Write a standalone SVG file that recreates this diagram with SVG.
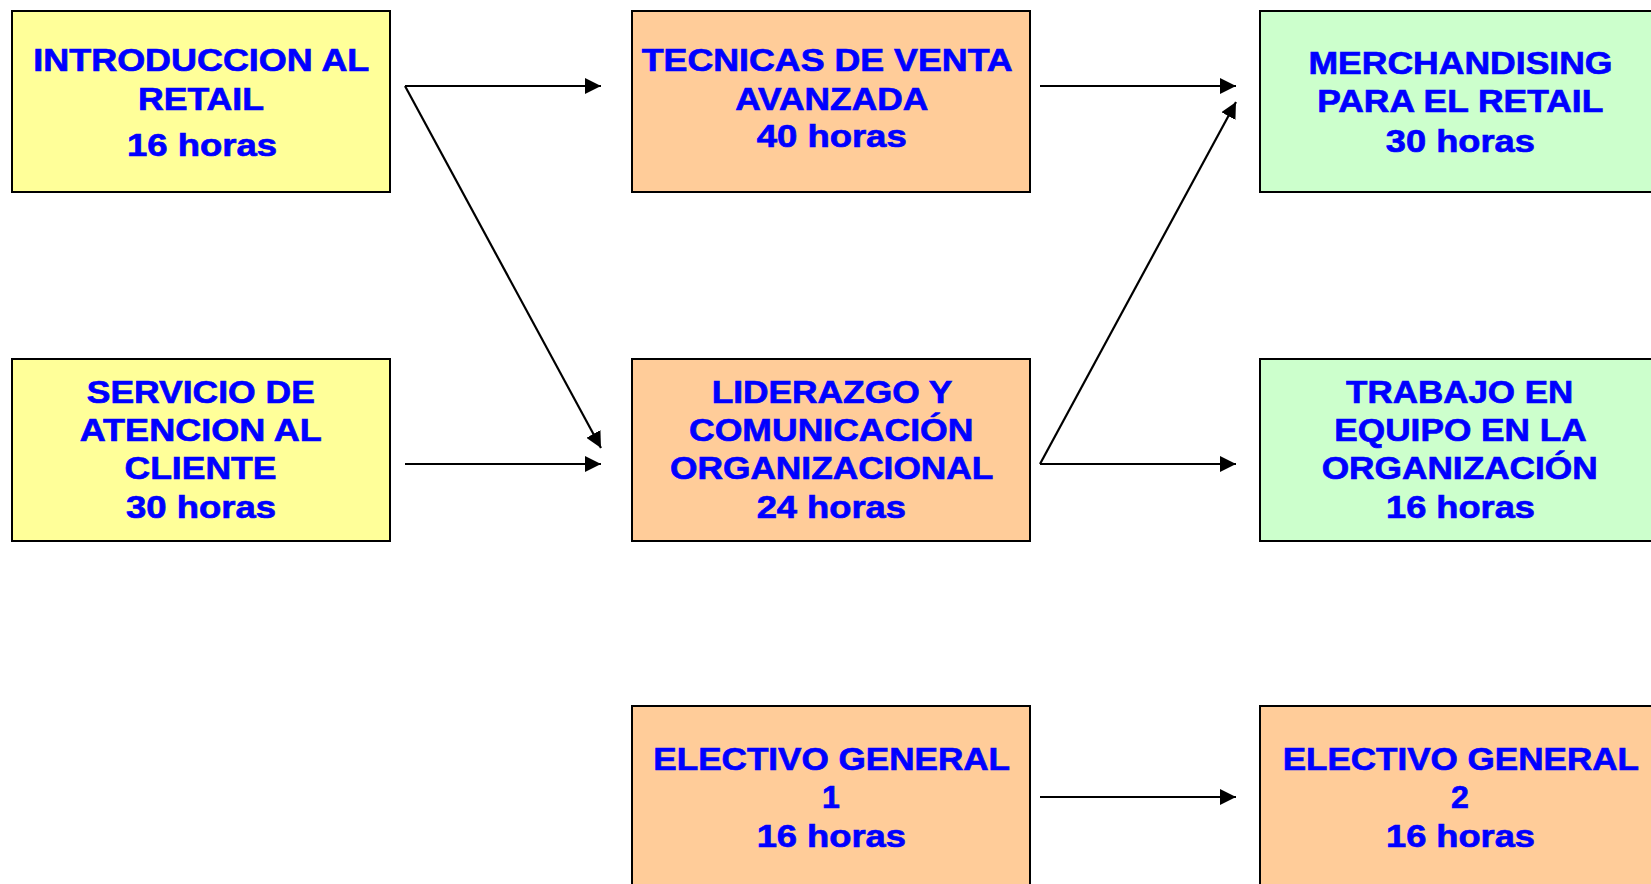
<svg xmlns="http://www.w3.org/2000/svg" width="1651" height="884" viewBox="0 0 1651 884">
<style>
  .box{stroke:#000;stroke-width:2}
  .y{fill:#FFFF99}
  .o{fill:#FFCC99}
  .g{fill:#CCFFCC}
  text{font-family:"Liberation Sans",Arial,sans-serif;font-weight:bold;font-size:32px;fill:#0000FF;stroke:#0000FF;stroke-width:0.7;text-anchor:middle}
  .c line{stroke:#000;stroke-width:2.2;marker-end:url(#ah)}
</style>
<defs>
  <marker id="ah" markerUnits="userSpaceOnUse" markerWidth="16" markerHeight="16" refX="15" refY="7.5" orient="auto" viewBox="0 0 15 15">
    <path d="M0,0 L15,7.5 L0,15 Z" fill="#000"/>
  </marker>
</defs>
<rect width="1651" height="884" fill="#fff"/>

<g id="introduccion">
  <rect class="box y" x="12" y="11" width="378" height="181"/>
  <text x="201.3" y="70.7" textLength="336" lengthAdjust="spacingAndGlyphs">INTRODUCCION AL</text>
  <text x="201" y="110" textLength="126" lengthAdjust="spacingAndGlyphs">RETAIL</text>
  <text x="202" y="156" textLength="150" lengthAdjust="spacingAndGlyphs">16 horas</text>
</g>

<g id="tecnicas">
  <rect class="box o" x="632" y="11" width="398" height="181"/>
  <text x="827.2" y="70.7" textLength="371" lengthAdjust="spacingAndGlyphs">TECNICAS DE VENTA</text>
  <text x="831.7" y="110" textLength="193" lengthAdjust="spacingAndGlyphs">AVANZADA</text>
  <text x="831.7" y="147.3" textLength="150" lengthAdjust="spacingAndGlyphs">40 horas</text>
</g>

<g id="merchandising">
  <rect class="box g" x="1260" y="11" width="400" height="181"/>
  <text x="1460.5" y="74" textLength="304" lengthAdjust="spacingAndGlyphs">MERCHANDISING</text>
  <text x="1460.3" y="112.3" textLength="286" lengthAdjust="spacingAndGlyphs">PARA EL RETAIL</text>
  <text x="1460.3" y="151.7" textLength="149" lengthAdjust="spacingAndGlyphs">30 horas</text>
</g>

<g id="servicio">
  <rect class="box y" x="12" y="359" width="378" height="182"/>
  <text x="200.8" y="403.3" textLength="228" lengthAdjust="spacingAndGlyphs">SERVICIO DE</text>
  <text x="200.8" y="441" textLength="242" lengthAdjust="spacingAndGlyphs">ATENCION AL</text>
  <text x="200.5" y="479.3" textLength="152" lengthAdjust="spacingAndGlyphs">CLIENTE</text>
  <text x="201" y="517.7" textLength="150" lengthAdjust="spacingAndGlyphs">30 horas</text>
</g>

<g id="liderazgo">
  <rect class="box o" x="632" y="359" width="398" height="182"/>
  <text x="832" y="403.3" textLength="240.7" lengthAdjust="spacingAndGlyphs">LIDERAZGO Y</text>
  <text x="831.2" y="441" textLength="284.3" lengthAdjust="spacingAndGlyphs">COMUNICACIÓN</text>
  <text x="831.7" y="479.3" textLength="323.3" lengthAdjust="spacingAndGlyphs">ORGANIZACIONAL</text>
  <text x="831.3" y="517.7" textLength="149.3" lengthAdjust="spacingAndGlyphs">24 horas</text>
</g>

<g id="trabajo">
  <rect class="box g" x="1260" y="359" width="400" height="182"/>
  <text x="1459.7" y="403.3" textLength="227.3" lengthAdjust="spacingAndGlyphs">TRABAJO EN</text>
  <text x="1460.5" y="441" textLength="252.3" lengthAdjust="spacingAndGlyphs">EQUIPO EN LA</text>
  <text x="1459.7" y="479.3" textLength="276" lengthAdjust="spacingAndGlyphs">ORGANIZACIÓN</text>
  <text x="1460.5" y="517.7" textLength="149" lengthAdjust="spacingAndGlyphs">16 horas</text>
</g>

<g id="electivo1">
  <rect class="box o" x="632" y="706" width="398" height="190"/>
  <text x="831.7" y="770" textLength="356.7" lengthAdjust="spacingAndGlyphs">ELECTIVO GENERAL</text>
  <text x="831" y="808.3">1</text>
  <text x="831.3" y="846.7" textLength="149.3" lengthAdjust="spacingAndGlyphs">16 horas</text>
</g>

<g id="electivo2">
  <rect class="box o" x="1260" y="706" width="400" height="190"/>
  <text x="1460.8" y="770" textLength="356.3" lengthAdjust="spacingAndGlyphs">ELECTIVO GENERAL</text>
  <text x="1460" y="808.3">2</text>
  <text x="1460.5" y="846.7" textLength="149" lengthAdjust="spacingAndGlyphs">16 horas</text>
</g>

<g id="connectors" class="c">
  <line x1="405" y1="86" x2="601" y2="86"/>
  <line x1="405" y1="86" x2="601" y2="448"/>
  <line x1="405" y1="464" x2="601" y2="464"/>
  <line x1="1040" y1="86" x2="1236" y2="86"/>
  <line x1="1040" y1="464" x2="1236" y2="102"/>
  <line x1="1040" y1="464" x2="1236" y2="464"/>
  <line x1="1040" y1="797" x2="1236" y2="797"/>
</g>
</svg>
